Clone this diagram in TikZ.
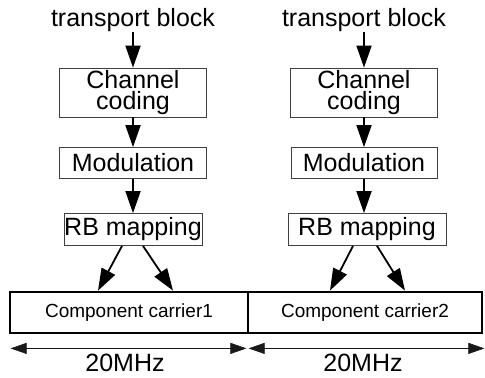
\documentclass[tikz,border=0pt]{standalone}
\usepackage{amsmath, amsfonts, amssymb}
\usepackage{xcolor}
\usepackage{fontspec}
\setmainfont{Liberation Sans}
\usetikzlibrary{arrows.meta}

\begin{document}
\begin{tikzpicture}
\definecolor{ctb}{rgb}{0.0,0.0,0.0}
\definecolor{cbox}{rgb}{0.25,0.25,0.25}
\definecolor{cfbox}{rgb}{1.0,1.0,1.0}
\definecolor{clbox}{rgb}{0.0,0.0,0.0}
\definecolor{ccar}{rgb}{0.0,0.0,0.0}
\definecolor{cfcar}{rgb}{1.0,1.0,1.0}
\definecolor{clcar}{rgb}{0.0,0.0,0.0}
\definecolor{cedge}{rgb}{0.0,0.0,0.0}
\definecolor{cdim}{rgb}{0.1,0.1,0.1}
\tikzset{
  bigtext/.style={font=\fontsize{25}{21}\selectfont},
  boxv/.style={shape=rectangle,draw=cbox,fill=cfbox,text=clbox,line width=0.8pt,
    inner sep=0pt,align=center,bigtext},
  carv/.style={shape=rectangle,draw=ccar,fill=cfcar,text=clcar,line width=2.8pt,
    inner sep=0pt,font=\fontsize{19}{22}\selectfont},
  textv/.style={shape=rectangle,draw=none,text=ctb,inner sep=0pt,bigtext},
  arr/.style={line width=1.8pt,color=cedge,-{Triangle[length=22pt,width=15pt]}},
  dimline/.style={line width=0.6pt,color=cdim,
    {Triangle[length=16pt,width=11pt]}-{Triangle[length=16pt,width=11pt]}},
}
\useasboundingbox (0,0) rectangle (17.0478cm,13.2516cm);
%
\node[textv] (tb1) at (4.6750cm,12.5486cm) {transport block};
\node[textv] (tb2) at (12.7946cm,12.5486cm) {transport block};
\node[boxv,minimum width=5.1671cm,minimum height=1.7224cm] (cc1) at (4.6750cm,10.0002cm) {Channel\\coding};
\node[boxv,minimum width=5.1671cm,minimum height=1.7224cm] (cc2) at (12.7946cm,10.0002cm) {Channel\\coding};
\node[boxv,minimum width=5.1671cm,minimum height=1.0897cm] (mod1) at (4.6750cm,7.5221cm) {Modulation};
\node[boxv,minimum width=5.1320cm,minimum height=1.0897cm] (mod2) at (12.7946cm,7.5221cm) {Modulation};
\node[boxv,minimum width=4.8507cm,minimum height=1.1248cm] (rb1) at (4.6750cm,5.1846cm) {RB mapping};
\node[boxv,minimum width=5.5537cm,minimum height=1.1248cm] (rb2) at (12.9000cm,5.1846cm) {RB mapping};
\node[carv,minimum width=8.3657cm,minimum height=1.4412cm] (car1) at (4.5344cm,2.2672cm) {Component carrier1};
\node[carv,minimum width=8.2251cm,minimum height=1.4412cm] (car2) at (12.8298cm,2.2672cm) {Component carrier2};
\node[textv] (mhz1) at (4.3938cm,0.4921cm) {20MHz};
\node[textv] (mhz2) at (12.7595cm,0.4921cm) {20MHz};
%
\draw[arr] (tb1) -- (cc1);
\draw[arr] (cc1) -- (mod1);
\draw[arr] (mod1) -- (rb1);
\draw[arr] (tb2) -- (cc2);
\draw[arr] (cc2) -- (mod2);
\draw[arr] (mod2.south) -- (mod2.south |- rb2.north);
%
\draw[arr] ([xshift=-11pt]rb1.south) -- ([xshift=-31pt]car1.north);
\draw[arr] ([xshift=10pt]rb1.south) -- ([xshift=44pt]car1.north);
\draw[arr] ([xshift=-14pt]rb2.south) -- ([xshift=-35pt]car2.north);
\draw[arr] ([xshift=10pt]rb2.south) -- ([xshift=40pt]car2.north);
%
\draw[dimline] ([shift={(2pt,-14pt)}]car1.south west) -- ([shift={(-3pt,-14pt)}]car1.south east);
\draw[dimline] ([shift={(2pt,-14pt)}]car2.south west) -- ([shift={(1pt,-14pt)}]car2.south east);
%
\end{tikzpicture}
\end{document}
